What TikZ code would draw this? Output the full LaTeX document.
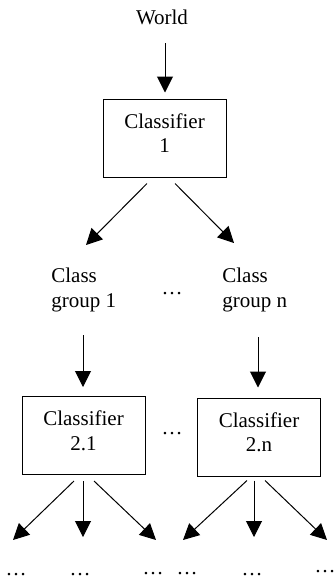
\documentclass[tikz,border=0pt]{standalone}
\usepackage{fontspec}
\setmainfont{Liberation Serif}
\usetikzlibrary{arrows.meta,calc}

\begin{document}
\begin{tikzpicture}[x=0.5pt,y=-0.5pt,
    font=\fontsize{10.5}{12.25}\selectfont,
    box/.style={draw,line width=0.5pt,minimum width=61.5pt,minimum height=39pt,align=center,inner sep=0pt,text depth=5pt},
    grp/.style={anchor=west,align=left,inner sep=0pt},
    arr/.style={line width=0.5pt,-{Triangle[length=8pt,width=8pt]}}]
     \useasboundingbox (0,0) rectangle (333,579);
     \node[anchor=base] (world) at (162,24) {World};
     \node[box] (c1) at (164.5,138) {Classifier\\1};
     \node[grp] (g1) at (51,290) {Class\\group 1};
     \node[grp] (gn) at (222,290) {Class\\group n};
     \node[anchor=base,inner sep=0pt] (d1) at (172,294) {…};
     \node[box] (c21) at (83.5,435.5) {Classifier\\2.1};
     \node[box] (c2n) at (259,437) {Classifier\\2.n};
     \node[anchor=base,inner sep=0pt] (d2) at (172,434) {…};
     \node[anchor=base,inner sep=0pt] (b1) at (16,575) {…};
     \node[anchor=base,inner sep=0pt] (b2) at (80,575) {…};
     \node[anchor=base,inner sep=0pt] (b3) at (153,574) {…};
     \node[anchor=base,inner sep=0pt] (b4) at (187,574) {…};
     \node[anchor=base,inner sep=0pt] (b5) at (252,575) {…};
     \node[anchor=base,inner sep=0pt] (b6) at (325,572) {…};
     \draw[arr] ($(world.base)+(3,19)$) -- ($(c1.north)+(0.5,-6)$);
     \draw[arr] ($(c1.south)+(-17.5,6)$) -- ($(g1.west)+(35,-45)$);
     \draw[arr] ($(c1.south)+(10.5,6)$) -- ($(gn.west)+(12,-47)$);
     \draw[arr] ($(g1.west)+(32,45)$) -- ($(c21.north)+(-0.5,-9)$);
     \draw[arr] ($(gn.west)+(36,47)$) -- ($(c2n.north)+(-1,-10)$);
     \draw[arr] ($(c21.south)+(-9.5,6)$) -- ($(b1.base)+(-3,-35)$);
     \draw[arr] ($(c21.south)+(-0.5,6)$) -- ($(b2.base)+(3,-38)$);
     \draw[arr] ($(c21.south)+(10.5,6)$) -- ($(b3.base)+(3,-34)$);
     \draw[arr] ($(c2n.south)+(-12,4)$) -- ($(b4.base)+(-4,-34)$);
     \draw[arr] ($(c2n.south)+(-5,4)$) -- ($(b5.base)+(2,-38)$);
     \draw[arr] ($(c2n.south)+(6,4)$) -- ($(b6.base)+(2,-32)$);
\end{tikzpicture}
\end{document}
